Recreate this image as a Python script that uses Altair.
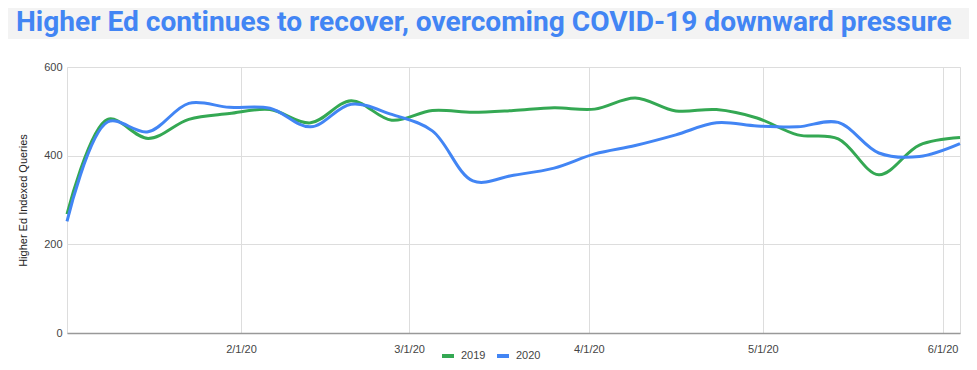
import altair as alt
import pandas as pd

# ---- data ----
dates = [
    "2020/01/02", "2020/01/09", "2020/01/16", "2020/01/23", "2020/01/30",
    "2020/02/06", "2020/02/13", "2020/02/20", "2020/02/27", "2020/03/05",
    "2020/03/12", "2020/03/19", "2020/03/26", "2020/04/02", "2020/04/09",
    "2020/04/16", "2020/04/23", "2020/04/30", "2020/05/07", "2020/05/14",
    "2020/05/21", "2020/05/28", "2020/06/04",
]
values_2019 = [268, 482, 439, 482, 495, 504, 474, 524, 480, 502, 498, 502,
               508, 505, 530, 501, 504, 485, 447, 438, 357, 424, 441]
values_2020 = [252, 476, 454, 518, 509, 507, 465, 516, 493, 456, 343, 356,
               372, 404, 423, 447, 474, 467, 465, 475, 406, 398, 427]
series = ["2019", "2020"]
colors = ["#34A853", "#4285F4"]
title_text = "Higher Ed continues to recover, overcoming COVID-19 downward pressure"
y_title = "Higher Ed Indexed Queries"

rows = []
for d, v in zip(dates, values_2019):
    rows.append({"date": d, "value": v, "year": "2019"})
for d, v in zip(dates, values_2020):
    rows.append({"date": d, "value": v, "year": "2020"})
df = pd.DataFrame(rows)

W, H = 893, 266
PAD_L, PAD_T, PAD_R, PAD_B = 59, 59, 9, 29

month_ticks = [alt.DateTime(year=2020, month=m, date=1) for m in range(2, 7)]

base = alt.Chart(df)

lines = base.mark_line(interpolate="catmull-rom", strokeWidth=3).encode(
    x=alt.X(
        "date:T",
        scale=alt.Scale(domain=[alt.DateTime(year=2020, month=1, date=2),
                                alt.DateTime(year=2020, month=6, date=4)],
                        nice=False),
        axis=alt.Axis(values=month_ticks, format="%-m/%-d/%y", title=None,
                      labelFontSize=11, labelColor="#444", labelPadding=10,
                      ticks=False, grid=True, gridColor="#dddddd",
                      domainColor="#999999", domainWidth=1.5,
                      labelFont="Liberation Sans"),
    ),
    y=alt.Y(
        "value:Q",
        scale=alt.Scale(domain=[0, 600]),
        axis=alt.Axis(values=[0, 200, 400, 600], title=y_title, titleFontSize=11,
                      titleFontWeight="normal", titleColor="#222",
                      titleFont="Liberation Sans", titlePadding=15,
                      labelFontSize=11, labelColor="#444", labelPadding=5,
                      labelFont="Liberation Sans",
                      ticks=False, domain=False, grid=True, gridColor="#dddddd"),
    ),
    color=alt.Color(
        "year:N",
        scale=alt.Scale(domain=series, range=colors),
        legend=alt.Legend(orient="none", legendX=373, legendY=281,
                          direction="horizontal", title=None,
                          symbolType="stroke", symbolStrokeWidth=4,
                          symbolSize=144, labelFontSize=11, labelColor="#444",
                          labelFont="Liberation Sans", columnPadding=3,
                          labelOffset=5),
    ),
    order=alt.Order("year:N"),
)

band = alt.Chart(pd.DataFrame({"a": [0]})).mark_rect(color="#f3f3f3").encode(
    x=alt.value(-PAD_L), x2=alt.value(W + PAD_R),
    y=alt.value(-PAD_T), y2=alt.value(-28),
)

title = alt.Chart(pd.DataFrame({"t": [title_text]})).mark_text(
    align="left", baseline="alphabetic", font="Roboto", fontWeight="bold",
    fontSize=28.1, color="#4285F4",
).encode(
    text="t:N", x=alt.value(-51), y=alt.value(-36.5),
)

chart = alt.layer(band, title, lines).properties(
    width=W, height=H,
    autosize=alt.AutoSizeParams(type="none"),
    padding={"left": PAD_L, "top": PAD_T, "right": PAD_R, "bottom": PAD_B},
).configure_view(stroke=None).configure(background="white")

chart.save("out.html", embed_options={"renderer": "svg", "actions": False})
